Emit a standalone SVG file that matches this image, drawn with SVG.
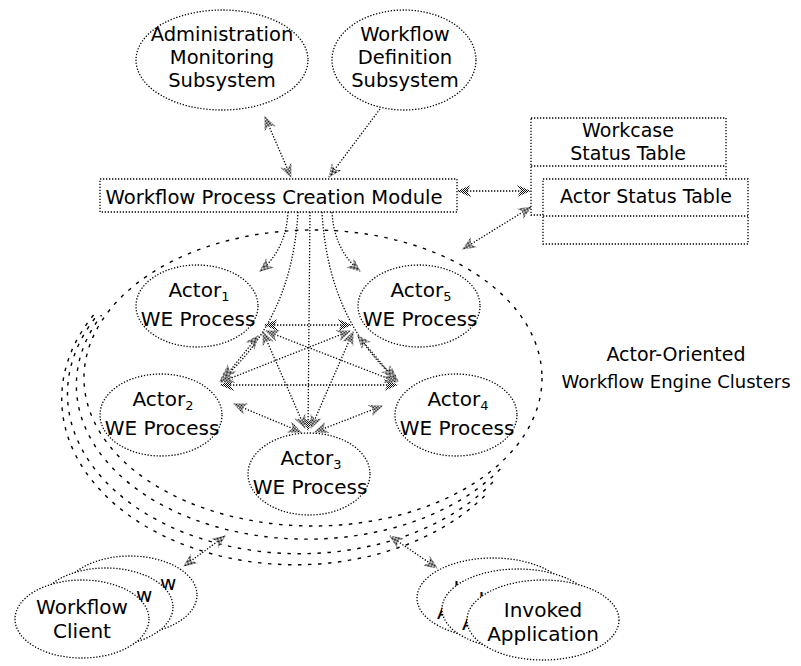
<svg xmlns="http://www.w3.org/2000/svg" width="801" height="666" viewBox="0 0 801 666">
<style>
.nd{fill:#fff;stroke:#000;stroke-width:1.3;stroke-dasharray:1.3 1.7}
.ln{fill:none;stroke:#000;stroke-width:1.3;stroke-dasharray:1.3 1.7}
.cl{fill:none;stroke:#000;stroke-width:1.4;stroke-dasharray:3.5 6.5}
text{font-family:"DejaVu Sans","Liberation Sans",sans-serif;font-size:20px;fill:#000;text-anchor:middle}
.sm{font-size:19px}
.tp{font-size:19.5px}
.sub{font-size:13px}
.st{text-anchor:start}
</style>
<defs>
<pattern id="dith" width="2" height="2" patternUnits="userSpaceOnUse">
<rect width="2" height="2" fill="#fff"/>
<rect width="1" height="1" fill="#000"/>
<rect x="1" y="1" width="1" height="1" fill="#000"/>
</pattern>
<marker id="ah" viewBox="0 0 14 12" refX="13" refY="6" markerWidth="14" markerHeight="12" markerUnits="userSpaceOnUse" orient="auto-start-reverse">
<path d="M0,0 L14,6 L0,12 L4,6 Z" fill="url(#dith)"/>
</marker>
</defs>
<rect width="801" height="666" fill="#fff"/>

<g id="cluster">
<ellipse class="cl" cx="313" cy="378" rx="229" ry="148"/>
<path class="cl" style="stroke-dashoffset:2" d="M101.6,315.1 A230.5,154 0 0 0 504.6,464.3"/>
<path class="cl" style="stroke-dashoffset:5" d="M98,314.4 A232,160 0 0 0 495.6,479.2"/>
<path class="cl" style="stroke-dashoffset:8" d="M94.9,313.5 A233.5,166 0 0 0 486.2,494.3"/>
<text x="676" y="361" class="sm">Actor-Oriented</text>
<text x="676" y="388" style="font-size:18px">Workflow Engine Clusters</text>
</g>

<g id="connectors">
<path class="ln" d="M265,117 L291,177" marker-start="url(#ah)" marker-end="url(#ah)"/>
<path class="ln" d="M380,109 L329,177" marker-end="url(#ah)"/>
<path class="ln" d="M458,191 L530,191" marker-start="url(#ah)" marker-end="url(#ah)"/>
<path class="ln" d="M531,207 L463,249" marker-start="url(#ah)" marker-end="url(#ah)"/>
<path class="ln" d="M288,212 Q286,250 260,271" marker-end="url(#ah)"/>
<path class="ln" d="M332,212 Q334,250 360,271" marker-end="url(#ah)"/>
<path class="ln" d="M298,212 Q292,320 220,381" marker-end="url(#ah)"/>
<path class="ln" d="M322,212 Q328,320 398,381" marker-end="url(#ah)"/>
<path class="ln" d="M310,212 L308,430" marker-end="url(#ah)"/>
<path class="ln" d="M265,325 L351,325" marker-start="url(#ah)" marker-end="url(#ah)"/>
<path class="ln" d="M221,385 L397,385" marker-start="url(#ah)" marker-end="url(#ah)"/>
<path class="ln" d="M263,332 L305,428" marker-start="url(#ah)" marker-end="url(#ah)"/>
<path class="ln" d="M353,332 L311,428" marker-start="url(#ah)" marker-end="url(#ah)"/>
<path class="ln" d="M266,331 L397,382" marker-start="url(#ah)" marker-end="url(#ah)"/>
<path class="ln" d="M350,331 L221,382" marker-start="url(#ah)" marker-end="url(#ah)"/>
<path class="ln" d="M234,404 L301,432" marker-start="url(#ah)" marker-end="url(#ah)"/>
<path class="ln" d="M382,406 L315,432" marker-start="url(#ah)" marker-end="url(#ah)"/>
<path class="ln" d="M258,336 L224,378" marker-start="url(#ah)" marker-end="url(#ah)"/>
<path class="ln" d="M358,336 L394,378" marker-start="url(#ah)" marker-end="url(#ah)"/>
<path class="ln" d="M225,536 L184,566" marker-start="url(#ah)" marker-end="url(#ah)"/>
<path class="ln" d="M390,536 L437,568" marker-start="url(#ah)" marker-end="url(#ah)"/>
</g>

<g id="admin">
<ellipse class="nd" cx="222" cy="60" rx="86" ry="50"/>
<text x="222" y="41" class="tp">Administration</text>
<text x="222" y="64" class="tp">Monitoring</text>
<text x="222" y="87" class="tp">Subsystem</text>
</g>
<g id="wfdef">
<ellipse class="nd" cx="404" cy="60" rx="72" ry="50"/>
<text x="405" y="41" class="tp">Workflow</text>
<text x="405" y="64" class="tp">Definition</text>
<text x="405" y="87" class="tp">Subsystem</text>
</g>
<g id="module">
<rect class="nd" x="100" y="179" width="357" height="33"/>
<text x="274" y="204" style="font-size:19.6px">Workflow Process Creation Module</text>
</g>
<g id="workcase-table">
<rect class="nd" x="531" y="118" width="195" height="97"/>
<line class="ln" x1="531" y1="166" x2="726" y2="166"/>
<text x="628" y="137" class="sm">Workcase</text>
<text x="628" y="160" class="sm">Status Table</text>
</g>
<g id="actor-table">
<rect class="nd" x="543" y="179" width="205" height="65"/>
<line class="ln" x1="543" y1="216" x2="748" y2="216"/>
<text x="646" y="203" class="sm">Actor Status Table</text>
</g>

<g id="actor1">
<ellipse class="nd" cx="197" cy="306" rx="61" ry="41"/>
<text x="199" y="297">Actor<tspan class="sub" dy="4">1</tspan></text>
<text x="198" y="326">WE Process</text>
</g>
<g id="actor5">
<ellipse class="nd" cx="419" cy="306" rx="61" ry="41"/>
<text x="421" y="297">Actor<tspan class="sub" dy="4">5</tspan></text>
<text x="420" y="326">WE Process</text>
</g>
<g id="actor2">
<ellipse class="nd" cx="161" cy="415" rx="61" ry="41"/>
<text x="163" y="406">Actor<tspan class="sub" dy="4">2</tspan></text>
<text x="162" y="435">WE Process</text>
</g>
<g id="actor4">
<ellipse class="nd" cx="456" cy="415" rx="61" ry="41"/>
<text x="458" y="406">Actor<tspan class="sub" dy="4">4</tspan></text>
<text x="457" y="435">WE Process</text>
</g>
<g id="actor3">
<ellipse class="nd" cx="309" cy="474" rx="61" ry="41"/>
<text x="311" y="465">Actor<tspan class="sub" dy="4">3</tspan></text>
<text x="310" y="494">WE Process</text>
</g>

<g id="workflow-client">
<ellipse class="nd" cx="130" cy="595" rx="67" ry="39"/>
<text x="160" y="590" class="st">w</text>
<ellipse class="nd" cx="106" cy="607" rx="67" ry="39"/>
<text x="136" y="602" class="st">w</text>
<ellipse class="nd" cx="82" cy="619" rx="67" ry="39"/>
<text x="82" y="614">Workflow</text>
<text x="82" y="638">Client</text>
</g>

<g id="invoked-application">
<ellipse class="nd" cx="493" cy="598" rx="76" ry="40"/>
<text x="453.5" y="595" class="st">I</text>
<text x="437" y="619" class="st">A</text>
<ellipse class="nd" cx="518" cy="609" rx="76" ry="40"/>
<text x="478.5" y="606" class="st">I</text>
<text x="462" y="630" class="st">A</text>
<ellipse class="nd" cx="543" cy="620" rx="76" ry="40"/>
<text x="543" y="617">Invoked</text>
<text x="543" y="641">Application</text>
</g>
</svg>
